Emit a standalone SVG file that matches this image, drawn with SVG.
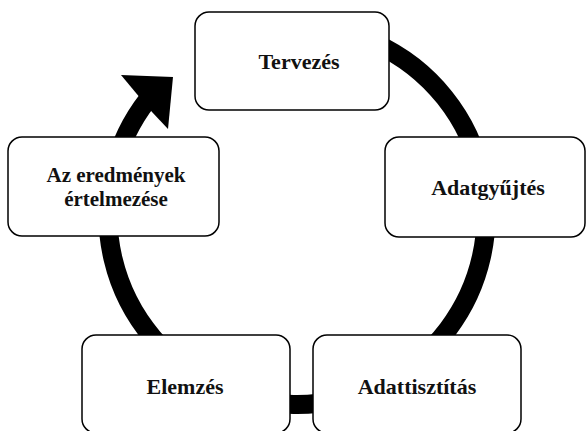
<svg xmlns="http://www.w3.org/2000/svg" width="587" height="431" viewBox="0 0 587 431">
  <style>
    .box { fill: #ffffff; stroke: #000000; stroke-width: 1.5; }
    .lbl { font-family: "Liberation Serif", "Times New Roman", serif; font-weight: bold; font-size: 22px; fill: #111111; text-anchor: middle; }
    .lbl2 { font-size: 21px; }
    .ring { fill: none; stroke: #000000; stroke-width: 19; }
  </style>
  <rect width="587" height="431" fill="#ffffff"/>
  <g id="connectors">
    <path class="ring" d="M 297 26.5 A 189 189 0 1 1 148.1 99.1"/>
    <polygon points="173,77 168,129 152,112 136,93 121,75" fill="#000000"/>
  </g>
  <g id="node-tervezes">
    <rect class="box" x="195" y="12" width="194" height="98" rx="14" ry="14"/>
    <text class="lbl" x="299" y="69">Tervezés</text>
  </g>
  <g id="node-adatgyujtes">
    <rect class="box" x="385" y="137" width="200" height="100" rx="14" ry="14"/>
    <text class="lbl" x="488" y="195">Adatgyűjtés</text>
  </g>
  <g id="node-adattisztitas">
    <rect class="box" x="313" y="335" width="208" height="98" rx="14" ry="14"/>
    <text class="lbl" x="417" y="394">Adattisztítás</text>
  </g>
  <g id="node-elemzes">
    <rect class="box" x="82" y="335" width="208" height="98" rx="14" ry="14"/>
    <text class="lbl" x="185" y="394">Elemzés</text>
  </g>
  <g id="node-ertelmezes">
    <rect class="box" x="8" y="137" width="211" height="99" rx="14" ry="14"/>
    <text class="lbl lbl2" x="116" y="182">Az eredmények</text>
    <text class="lbl lbl2" x="116" y="206">értelmezése</text>
  </g>
</svg>
